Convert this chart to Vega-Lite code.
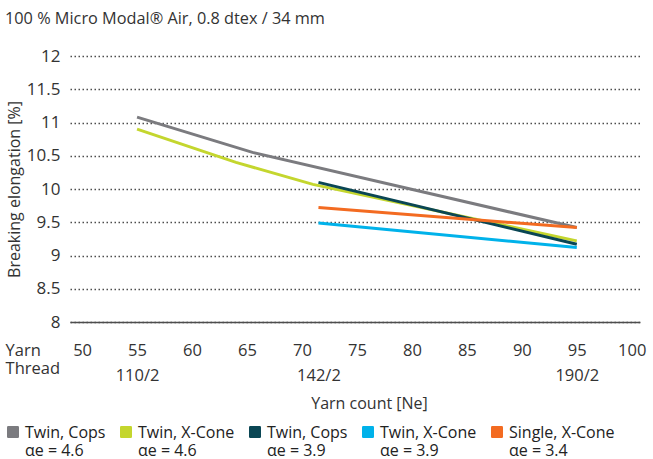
{
  "$schema": "https://vega.github.io/schema/vega-lite/v6.json",
  "width": 570,
  "height": 266,
  "autosize": "none",
  "padding": {"left": 70, "top": 56, "right": 13, "bottom": 137},
  "background": "white",
  "config": {
    "font": "Open Sans",
    "view": {"stroke": null}
  },
  "title": {
    "text": "100 % Micro Modal® Air, 0.8 dtex / 34 mm",
    "anchor": "start",
    "frame": "group",
    "dx": -65,
    "offset": 20,
    "fontSize": 16.3,
    "fontWeight": "normal",
    "color": "#333333"
  },
  "data": {
    "values": [
      {"s": "Twin, Cops|αe = 4.6", "ne": 55, "v": 11.08},
      {"s": "Twin, Cops|αe = 4.6", "ne": 65.5, "v": 10.55},
      {"s": "Twin, Cops|αe = 4.6", "ne": 95, "v": 9.42},
      {"s": "Twin, X-Cone|αe = 4.6", "ne": 55, "v": 10.9},
      {"s": "Twin, X-Cone|αe = 4.6", "ne": 64, "v": 10.4},
      {"s": "Twin, X-Cone|αe = 4.6", "ne": 71, "v": 10.07},
      {"s": "Twin, X-Cone|αe = 4.6", "ne": 95, "v": 9.22},
      {"s": "Twin, Cops |αe = 3.9", "ne": 71.5, "v": 10.1},
      {"s": "Twin, Cops |αe = 3.9", "ne": 95, "v": 9.17},
      {"s": "Twin, X-Cone |αe = 3.9", "ne": 71.5, "v": 9.49},
      {"s": "Twin, X-Cone |αe = 3.9", "ne": 95, "v": 9.12},
      {"s": "Single, X-Cone|αe = 3.4", "ne": 71.5, "v": 9.72},
      {"s": "Single, X-Cone|αe = 3.4", "ne": 95, "v": 9.42}
    ]
  },
  "encoding": {
    "y": {
      "field": "v",
      "type": "quantitative",
      "scale": {"domain": [8, 12], "nice": false, "zero": false},
      "axis": {
        "values": [8, 8.5, 9, 9.5, 10, 10.5, 11, 11.5, 12],
        "format": "~g",
        "grid": true,
        "gridDash": [1.5, 2.5],
        "gridColor": "#4d4d4d",
        "gridWidth": 1.3,
        "domain": false,
        "ticks": false,
        "labelFontSize": 17,
        "labelColor": "#333333",
        "labelPadding": 10,
        "title": "Breaking elongation [%]",
        "titleFontSize": 16,
        "titleFontWeight": "normal",
        "titleColor": "#333333",
        "titleX": -56,
        "titleY": 133,
        "titleAngle": -90,
        "titleAlign": "center",
        "titleBaseline": "middle"
      }
    }
  },
  "layer": [
    {
      "mark": {"type": "line", "strokeWidth": 3},
      "encoding": {
        "x": {
          "field": "ne",
          "type": "quantitative",
          "scale": {"domain": [48.9, 100.75], "nice": false, "zero": false},
          "axis": {
            "orient": "bottom",
            "values": [49, 50, 55, 60, 65, 70, 75, 80, 85, 90, 95, 100],
            "labelExpr": "datum.value == 49 ? 'Yarn' : datum.label",
            "grid": false,
            "ticks": false,
            "domainColor": "#4d4d4d",
            "domainWidth": 1.5,
            "labelFontSize": 16.5,
            "labelColor": "#333333",
            "labelPadding": 20,
            "labelFlush": false,
            "labelOverlap": false,
            "labelBound": false,
            "labelAlign": {"condition": {"test": "datum.value == 49", "value": "left"}, "value": "center"},
            "labelOffset": {"condition": {"test": "datum.value == 49", "value": -66}, "value": 0},
            "title": "Yarn count [Ne]",
            "titleFontSize": 16,
            "titleFontWeight": "normal",
            "titleColor": "#333333",
            "titleX": 299,
            "titleY": 81,
            "titleBaseline": "middle"
          }
        },
        "color": {
          "field": "s",
          "type": "nominal",
          "scale": {
            "domain": ["Twin, Cops|αe = 4.6", "Twin, X-Cone|αe = 4.6", "Twin, Cops |αe = 3.9", "Twin, X-Cone |αe = 3.9", "Single, X-Cone|αe = 3.4"],
            "range": ["#7b7b7f", "#c4d62e", "#0a4654", "#00b2ea", "#f36b21"]
          },
          "legend": {
            "title": null,
            "orient": "none",
            "legendX": -65,
            "legendY": 368,
            "direction": "horizontal",
            "columns": 5,
            "columnPadding": 12,
            "symbolType": "M -0.8 -1 H 0.8 Q 1 -1 1 -0.8 V 0.8 Q 1 1 0.8 1 H -0.8 Q -1 1 -1 0.8 V -0.8 Q -1 -1 -0.8 -1 Z",
            "symbolSize": 144,
            "labelExpr": "split(datum.label, '|')",
            "labelFontSize": 16,
            "labelColor": "#222222",
            "labelLineHeight": 14,
            "labelBaseline": "alphabetic",
            "labelOffset": 4,
            "labelLimit": 0,
            "encode": {
              "labels": {"update": {"dy": {"value": 6}}},
              "symbols": {"update": {
                "fill": {"scale": "color", "field": "value"},
                "fillOpacity": {"value": 1},
                "strokeWidth": {"value": 0}
              }}
            }
          }
        }
      }
    },
    {
      "mark": {"type": "point", "opacity": 0},
      "encoding": {
        "x": {
          "field": "ne",
          "type": "quantitative",
          "axis": {
            "orient": "bottom",
            "values": [49, 55, 71.5, 95],
            "labelExpr": "datum.value == 49 ? 'Thread' : datum.value == 55 ? '110/2' : datum.value == 71.5 ? '142/2' : '190/2'",
            "grid": false,
            "ticks": false,
            "domain": false,
            "labelFontSize": 16.5,
            "labelColor": "#333333",
            "labelPadding": {"condition": {"test": "datum.value == 49", "value": 38}, "value": 45},
            "labelFlush": false,
            "labelOverlap": false,
            "labelBound": false,
            "labelAlign": {"condition": {"test": "datum.value == 49", "value": "left"}, "value": "center"},
            "labelOffset": {"condition": {"test": "datum.value == 49", "value": -66}, "value": 0},
            "title": null
          }
        }
      }
    }
  ],
  "resolve": {"axis": {"x": "independent"}}
}
